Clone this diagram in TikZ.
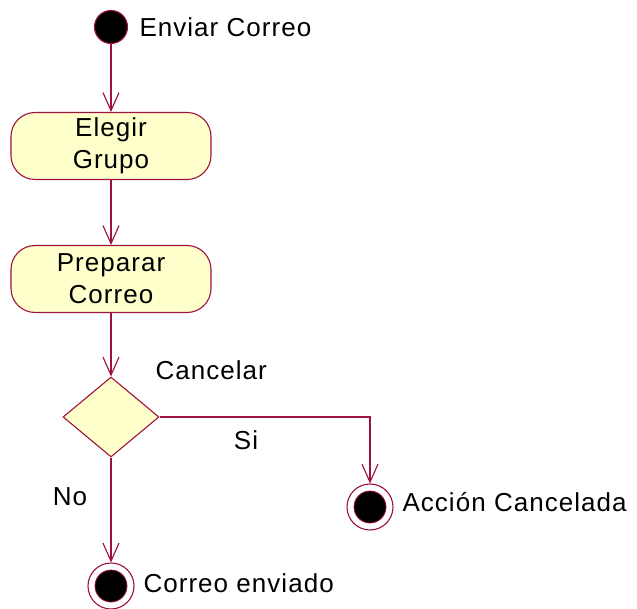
\documentclass[tikz,border=0pt]{standalone}
\usepackage{fontspec}
\setmainfont[LetterSpace=4]{Liberation Sans}
\usetikzlibrary{arrows.meta, positioning, shapes.geometric}
\definecolor{umlred}{RGB}{158, 18, 62}
\definecolor{umlyellow}{RGB}{255, 255, 204}

\begin{document}
\begin{tikzpicture}[
    x=1pt, y=-1pt,
    every node/.style={font=\fontsize{26}{32}\selectfont},
    activity/.style={rectangle, rounded corners=24pt, draw=umlred, fill=umlyellow, line width=1.1pt, minimum width=200pt, minimum height=67pt, align=center, inner sep=0pt},
    decision/.style={diamond, draw=umlred, fill=umlyellow, line width=1.1pt, minimum width=96pt, minimum height=80pt, inner sep=0pt},
    startstate/.style={circle, draw=umlred, fill=black, line width=1.1pt, minimum size=33pt, inner sep=0pt},
    endstate/.style={circle, draw=umlred, line width=1.1pt, minimum size=46pt, inner sep=0pt,
        path picture={\fill[black, draw=umlred, line width=0.8pt] (path picture bounding box.center) circle (16pt);}},
    arr/.style={-{Straight Barb[length=18pt, width=16pt]}, umlred, line width=1.1pt}
]
\useasboundingbox (0, 0) rectangle (637, 609);

\node[startstate] (inicio) at (111, 27) {};
\node[anchor=west] (inicioTxt) at (136, 27) {Enviar Correo};

\node[activity] (elegir) at (111, 146) {Elegir\\Grupo};
\node[activity] (preparar) at (111, 279) {Preparar\\Correo};

\node[decision] (cancelar) at (111, 417) {};
\node[anchor=west] (cancelarTxt) at (152, 370) {Cancelar};

\node[endstate] (cancelada) at (370, 507) {};
\node[anchor=west] (canceladaTxt) at (399, 502) {Acción Cancelada};

\node[endstate] (enviado) at (111, 586) {};
\node[anchor=west] (enviadoTxt) at (140, 583) {Correo enviado};

\draw[arr] (inicio) -- (elegir);
\draw[arr] (elegir) -- (preparar);
\draw[arr] (preparar) -- (cancelar);

% ramas de la decision
\draw[arr] (cancelar.east) -| (cancelada.north);
\node (si) at (246, 440) {Si};
\draw[arr] (cancelar.south) -- (enviado.north);
\node (no) at (70, 497) {No};

\end{tikzpicture}
\end{document}
